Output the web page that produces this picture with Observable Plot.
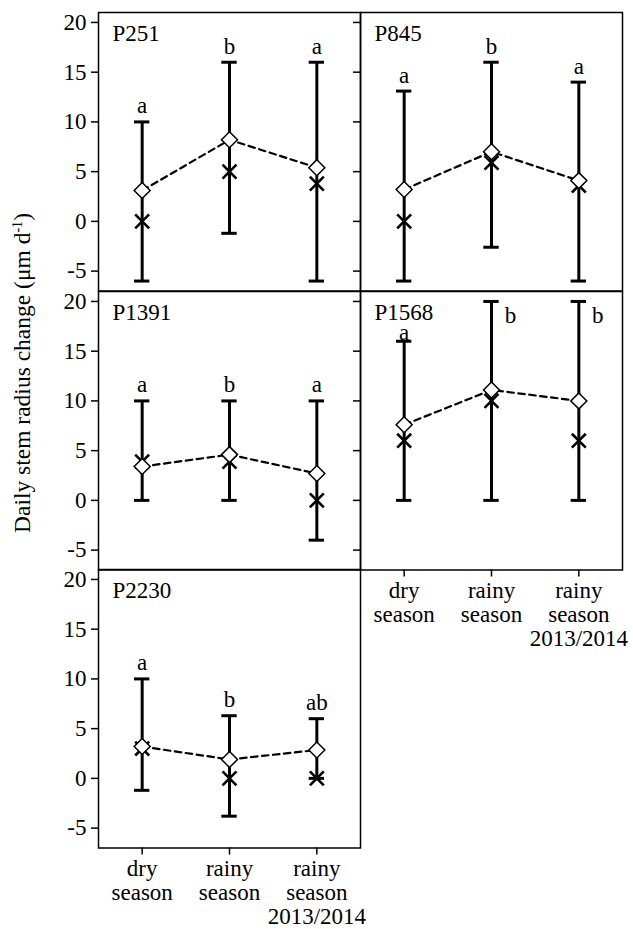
<!DOCTYPE html>
<html>
<head>
<meta charset="utf-8">
<script src="https://cdn.jsdelivr.net/npm/d3@7"></script>
<script src="https://cdn.jsdelivr.net/npm/@observablehq/plot@0.6"></script>
<style>
  body { margin: 0; background: #ffffff; }
  #chart { position: relative; width: 633px; height: 929px; font-family: "Liberation Serif", "Times New Roman", serif; color: #000; }
  .panel { position: absolute; }
  #ylabel { position: absolute; left: 23px; top: 373px; transform: translate(-50%, -50%) rotate(-90deg); white-space: nowrap; font-size: 23.5px; line-height: 1; }
  #ylabel sup { font-size: 0.6em; vertical-align: 0.6em; line-height: 0; }
</style>
</head>
<body>
<div id="chart"><div id="ylabel">Daily stem radius change (μm d<sup>-1</sup>)</div></div>
<script>
// ---- data ----
const categories = ["dry season", "rainy season", "rainy season 2013/2014"];
const categoryLabels = ["dry\nseason", "rainy\nseason", "rainy\nseason\n2013/2014"];
const panelNames = ["P251", "P845", "P1391", "P1568", "P2230"];
const yTicks = [-5, 0, 5, 10, 15, 20];

// one row per panel, one value per category
const maxima  = [[10, 16, 16], [13.1, 16, 14], [10, 10, 10], [16, 20, 20], [10, 6.3, 6]];
const minima  = [[-6, -1.2, -6], [-6, -2.6, -6], [0, 0, -4], [0, 0, 0], [-1.2, -3.8, 0]];
const means   = [[3.1, 8.2, 5.4], [3.2, 7.0, 4.1], [3.4, 4.6, 2.7], [7.6, 11.1, 10.0], [3.2, 1.9, 2.85]];
const medians = [[0, 5, 3.8], [0, 5.9, 3.6], [3.9, 3.9, 0], [6, 10, 6], [3.0, 0, 0]];
const letters = [["a", "b", "a"], ["a", "b", "a"], ["a", "b", "a"], ["a", "b", "b"], ["a", "b", "ab"]];

// ---- layout ----
const panelCol = [0, 1, 0, 1, 0];
const panelRow = [0, 0, 1, 1, 2];
const rowTops = [12, 290.5, 569];
const colLefts = [98, 360];
const W = 262, H = 278.5;
const font = "Liberation Serif, Times New Roman, serif";
const chart = document.getElementById("chart");

panelNames.forEach((name, k) => {
  const col = panelCol[k], row = panelRow[k];
  const isBottom = (k === 3 || k === 4);
  const ml = col === 0 ? 98 : 10;
  const mr = col === 0 ? 4 : 11;
  const mt = 10;
  const mb = isBottom ? 80 : 10;
  const rows = categories.map((c, i) => ({
    i: i + 1, cat: c,
    min: minima[k][i], max: maxima[k][i],
    mean: means[k][i], median: medians[k][i],
    letter: letters[k][i]
  }));
  const capHalf = 0.088;
  const normalLetters = rows.filter(d => d.max < 20);
  const topLetters = rows.filter(d => d.max >= 20);
  // letter offset above the upper whisker (squeezed under the panel name when close to it)
  const letterY = d => d.max + ((d.i === 1 && d.max >= 15) ? 0.9 : 1.6);

  const marks = [
    Plot.ruleX(rows, {x: "i", y1: "min", y2: "max", stroke: "black", strokeWidth: 3}),
    Plot.ruleY(rows, {y: "max", x1: d => d.i - capHalf, x2: d => d.i + capHalf, stroke: "black", strokeWidth: 3}),
    Plot.ruleY(rows, {y: "min", x1: d => d.i - capHalf, x2: d => d.i + capHalf, stroke: "black", strokeWidth: 3}),
    Plot.line(rows, {x: "i", y: "mean", stroke: "black", strokeWidth: 2.2, strokeDasharray: "6.5,4.5"}),
    Plot.dot(rows, {x: "i", y: "median", symbol: "times", r: 6.4, stroke: "black", strokeWidth: 2.6}),
    Plot.dot(rows, {x: "i", y: "mean", symbol: "diamond2", r: 7.2, fill: "white", stroke: "black", strokeWidth: 1.5}),
    Plot.text(normalLetters, {x: "i", y: letterY, text: "letter", fontSize: 23, lineAnchor: "middle", fill: "black"}),
    Plot.text(topLetters, {x: "i", y: d => d.max - 1.4, dx: 19, text: "letter", fontSize: 23, lineAnchor: "middle", fill: "black"}),
    Plot.text([name], {frameAnchor: "top-left", text: d => d, dx: 14, dy: 12, textAnchor: "start", lineAnchor: "top", fontSize: 23, fill: "black"}),
    Plot.axisY({ticks: yTicks, tickSize: 7, tickPadding: 5, strokeWidth: 1.5, fontSize: 23,
                tickFormat: col === 0 ? (d => String(d)) : (() => ""), label: null}),
    Plot.frame({stroke: "black", strokeWidth: 1.5})
  ];
  if (isBottom) {
    marks.push(Plot.axisX({ticks: [1, 2, 3], tickFormat: i => categoryLabels[i - 1], tickSize: 7, tickPadding: 4,
                           strokeWidth: 1.5, fontSize: 23, lineHeight: 1.05, label: null}));
  }

  const svg = Plot.plot({
    width: ml + W + mr,
    height: mt + H + mb,
    marginLeft: ml, marginRight: mr, marginTop: mt, marginBottom: mb,
    style: {background: "transparent", fontFamily: font, fontSize: "23px", overflow: "visible", maxWidth: "none"},
    x: {type: "linear", domain: [0.5, 3.5], axis: isBottom ? undefined : null},
    y: {type: "linear", domain: [-7, 21]},
    marks
  });
  const div = document.createElement("div");
  div.className = "panel";
  div.style.left = (colLefts[col] - ml) + "px";
  div.style.top = (rowTops[row] - mt) + "px";
  div.style.width = (ml + W + mr) + "px";
  div.appendChild(svg);
  chart.appendChild(div);
});
</script>
</body>
</html>
